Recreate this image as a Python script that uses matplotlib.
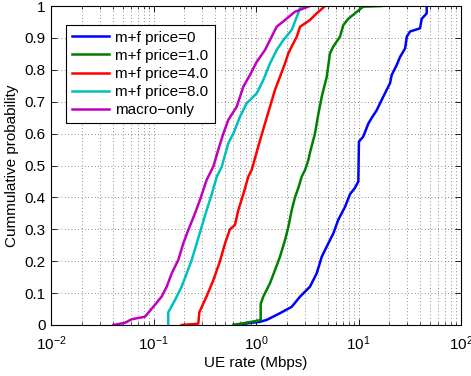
import numpy as np
import matplotlib
matplotlib.use("Agg")
import matplotlib.pyplot as plt
from matplotlib.ticker import LogLocator, FixedLocator, NullFormatter

plt.rcParams["font.family"] = ["Liberation Sans", "DejaVu Sans"]
plt.rcParams["mathtext.default"] = "regular"

# --- data (UE rate in Mbps, cumulative probability) ---
labels = ["m+f price=0", "m+f price=1.0", "m+f price=4.0", "m+f price=8.0", "macro\u2212only"]
colors = ["#0000ff", "#008000", "#ff0000", "#00bfbf", "#bf00bf"]

rate_p0 = [0.601, 1.094, 1.271, 1.714, 2.23, 2.69, 3.36, 3.91, 4.38, 5.08, 5.68, 6.35,
           7.38, 8.26, 9.24, 9.96, 10.1, 11.1, 12.5, 13.5, 15.1, 16.8, 18.1, 20.3, 21.1,
           23.6, 25.4, 28.5, 29.6, 31.8, 39.8, 41.4, 46.3, 46.3]
prob_p0 = [0.0, 0.01, 0.016, 0.037, 0.057, 0.089, 0.12, 0.162, 0.214, 0.256, 0.287, 0.33,
           0.37, 0.41, 0.43, 0.45, 0.575, 0.59, 0.632, 0.65, 0.674, 0.705, 0.726, 0.758, 0.784,
           0.815, 0.84, 0.867, 0.904, 0.92, 0.93, 0.96, 0.977, 1.0]

rate_p1 = [0.601, 1.016, 1.111, 1.111, 1.178, 1.369, 1.532, 1.714, 1.918, 2.07, 2.23, 2.40,
           2.59, 2.79, 3.01, 3.24, 3.36, 3.76, 4.05, 4.38, 4.90, 5.27, 5.68, 6.60, 7.11,
           7.95, 9.24, 11.1, 16.8]
prob_p1 = [0.0, 0.013, 0.016, 0.066, 0.089, 0.131, 0.172, 0.214, 0.266, 0.308, 0.36, 0.40,
           0.43, 0.465, 0.486, 0.517, 0.54, 0.60, 0.66, 0.716, 0.778, 0.852, 0.873, 0.904, 0.94,
           0.96, 0.977, 0.998, 1.0]

rate_p4 = [0.188, 0.2735, 0.280, 0.330, 0.383, 0.445, 0.499, 0.557, 0.624, 0.672, 0.752,
           0.841, 0.908, 1.053, 1.224, 1.369, 1.532, 1.714, 1.918, 2.07, 2.23, 2.50, 2.69,
           3.36, 3.91, 4.71]
prob_p4 = [0.0, 0.004, 0.04, 0.09, 0.14, 0.2, 0.256, 0.3, 0.314, 0.36, 0.41,
           0.465, 0.486, 0.56, 0.632, 0.684, 0.737, 0.778, 0.82, 0.852, 0.873, 0.904, 0.935,
           0.956, 0.977, 1.0]

rate_p8 = [0.1394, 0.1394, 0.162, 0.188, 0.211, 0.236, 0.264, 0.295, 0.330, 0.370, 0.414,
           0.463, 0.537, 0.601, 0.698, 0.811, 1.016, 1.178, 1.369, 1.592, 1.846, 2.23, 2.50,
           2.69, 3.12]
prob_p8 = [0.0, 0.04, 0.078, 0.12, 0.162, 0.204, 0.256, 0.308, 0.36, 0.41, 0.465,
           0.496, 0.57, 0.60, 0.653, 0.695, 0.726, 0.768, 0.82, 0.862, 0.893, 0.925, 0.966,
           0.993, 1.0]

rate_macro = [0.0405, 0.0527, 0.0613, 0.0826, 0.0995, 0.120, 0.1345, 0.1506, 0.1746, 0.1953,
              0.2186, 0.254, 0.284, 0.330, 0.383, 0.429, 0.480, 0.537, 0.648, 0.752, 0.874,
              1.016, 1.224, 1.423, 1.592, 1.918, 2.40, 3.36]
prob_macro = [0.0, 0.007, 0.018, 0.026, 0.057, 0.089, 0.12, 0.162, 0.204, 0.256,
              0.298, 0.35, 0.392, 0.455, 0.496, 0.55, 0.60, 0.643, 0.684, 0.747, 0.784,
              0.825, 0.862, 0.904, 0.935, 0.956, 0.982, 1.0]

series = [(rate_p0, prob_p0), (rate_p1, prob_p1), (rate_p4, prob_p4),
          (rate_p8, prob_p8), (rate_macro, prob_macro)]

fig = plt.figure(figsize=(4.71, 3.76), dpi=100)
ax = fig.add_axes([51 / 471, 1 - 325 / 376, 410 / 471, 319 / 376])

for (x, y), c, lab in zip(series, colors, labels):
    ax.plot(x, y, color=c, lw=1.8, label=lab)

ax.set_xscale("log")
ax.set_xlim(1e-2, 1e2)
ax.set_ylim(0, 1)
ax.xaxis.set_major_locator(LogLocator(base=10, numticks=10))
ax.xaxis.set_minor_locator(LogLocator(base=10, subs=np.arange(2, 10), numticks=20))
ax.xaxis.set_minor_formatter(NullFormatter())
ax.yaxis.set_major_locator(FixedLocator(np.round(np.arange(0, 1.01, 0.1), 1)))
ax.set_yticklabels(["0", "0.1", "0.2", "0.3", "0.4", "0.5", "0.6", "0.7", "0.8", "0.9", "1"])

ax.grid(True, which="major", linestyle=(0, (1, 3)), color="0.4", lw=0.6)
ax.grid(True, which="minor", axis="x", linestyle=(0, (1, 3)), color="0.4", lw=0.6)
ax.tick_params(which="both", direction="in", top=True, right=True, labelsize=11)
ax.tick_params(which="major", length=4, width=0.6)
ax.tick_params(which="minor", length=2, width=0.5)
ax.tick_params(axis="x", which="major", pad=7)
ax.tick_params(axis="y", which="major", pad=4)
for s in ax.spines.values():
    s.set_linewidth(0.8)

ax.set_xlabel("UE rate (Mbps)", fontsize=11, labelpad=2)
ax.set_ylabel("Cummulative probability", fontsize=11, labelpad=4)

leg = ax.legend(loc="upper left", bbox_to_anchor=(0.036, 0.942), fontsize=11,
                fancybox=False, framealpha=1, edgecolor="black", handlelength=2.4,
                borderpad=0.4, labelspacing=0.27, handletextpad=0.45, borderaxespad=0)
leg.get_frame().set_linewidth(0.8)

fig.savefig("out.png", dpi=100)
